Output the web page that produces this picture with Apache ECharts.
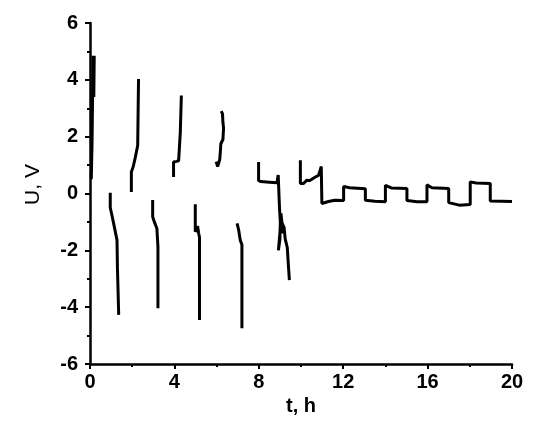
<!DOCTYPE html>
<html>
<head>
<meta charset="utf-8">
<script src="https://cdn.jsdelivr.net/npm/echarts@6/dist/echarts.min.js"></script>
<style>
  html, body { margin: 0; padding: 0; background: #fff; }
  #chart { width: 550px; height: 425px; }
</style>
</head>
<body>
<div id="chart"></div>
<script>
// t (h), U (V) pairs, one array per trace piece
const charge1 = [[0.06, 0.5], [0.08, 1.2], [0.1, 1.9], [0.11, 2.6], [0.12, 3.3], [0.14, 4.85], [0.18, 3.4], [0.2, 4.8], [0.16, 3.6], [0.2, 4.85]];
const discharge1 = [[0.96, 0.03], [0.96, -0.5], [1.05, -0.8], [1.12, -1.05], [1.2, -1.35], [1.28, -1.64], [1.3, -2.6], [1.36, -2.6], [1.36, -4.27]];
const charge2 = [[1.96, 0.05], [1.96, 0.76], [2.05, 0.95], [2.15, 1.28], [2.26, 1.69], [2.3, 1.75], [2.3, 4.03]];
const discharge2 = [[2.97, -0.23], [2.97, -0.82], [3.05, -1.0], [3.17, -1.23], [3.22, -1.87], [3.22, -4.04]];
const charge3 = [[3.96, 0.58], [3.96, 1.11], [4.1, 1.13], [4.2, 1.15], [4.28, 1.2], [4.28, 2.16], [4.33, 2.2], [4.33, 3.45]];
const discharge3 = [[4.99, -0.38], [4.99, -1.35], [5.05, -1.3], [5.1, -1.15], [5.15, -1.4], [5.19, -1.55], [5.19, -4.45]];
const charge4 = [[5.98, 1.12], [6.05, 0.95], [6.12, 0.95], [6.15, 1.2], [6.18, 1.5], [6.2, 1.75], [6.3, 1.9], [6.33, 2.3], [6.3, 2.5], [6.28, 2.8], [6.22, 2.9]];
const discharge4 = [[6.97, -1.05], [7.05, -1.3], [7.12, -1.64], [7.2, -1.8], [7.2, -4.74]];
const cycle5 = [[7.99, 1.11], [7.99, 0.45], [8.1, 0.42], [8.5, 0.4], [8.86, 0.38], [8.88, 0.45], [8.92, 0.65], [8.97, 0.62],
  [8.98, -0.5], [9.02, -1.0], [9.0, -1.6], [8.93, -2.0], [9.0, -1.4], [9.05, -0.7], [9.15, -1.4], [9.08, -1.0],
  [9.2, -1.2], [9.25, -1.6], [9.35, -1.9], [9.4, -2.5], [9.45, -3.05]];
const cycleTail = [[9.97, 1.17], [9.97, 0.35], [10.12, 0.35], [10.28, 0.47], [10.4, 0.45], [10.68, 0.58], [10.83, 0.64],
  [10.91, 0.82], [10.96, 0.95], [10.99, -0.35], [11.3, -0.28], [11.6, -0.24], [12.02, -0.25],
  [12.02, 0.25], [12.3, 0.2], [13.05, 0.17], [13.05, -0.24], [13.5, -0.27], [14.0, -0.29],
  [14.0, 0.29], [14.3, 0.19], [15.02, 0.18], [15.02, -0.25], [15.5, -0.29], [15.97, -0.29],
  [15.97, 0.31], [16.2, 0.2], [17.0, 0.18], [17.0, -0.32], [17.5, -0.41], [18.02, -0.39],
  [18.02, 0.41], [18.3, 0.37], [18.97, 0.35], [18.97, -0.26], [20.0, -0.28]];

const traces = [charge1, discharge1, charge2, discharge2, charge3, discharge3, charge4, discharge4, cycle5, cycleTail];

const font = 'Liberation Sans, Arial, sans-serif';

const option = {
  animation: false,
  backgroundColor: '#fff',
  grid: {
    left: 90,
    right: 38,
    top: 23,
    bottom: 61
  },
  xAxis: {
    type: 'value',
    min: 0,
    max: 20,
    interval: 4,
    name: 't, h',
    nameLocation: 'middle',
    nameGap: 30,
    nameTextStyle: { color: '#000', fontSize: 20, fontWeight: 'bold', fontFamily: font },
    axisLine: { show: true, onZero: false, lineStyle: { color: '#000', width: 2.5 } },
    axisTick: { show: true, length: 5, lineStyle: { color: '#000', width: 2 } },
    minorTick: { show: true, splitNumber: 2, length: 3, lineStyle: { color: '#000', width: 2 } },
    splitLine: { show: false },
    axisLabel: { color: '#000', fontSize: 20, fontWeight: 'bold', fontFamily: font, margin: 8 }
  },
  yAxis: {
    type: 'value',
    min: -6,
    max: 6,
    interval: 2,
    name: 'U, V',
    nameLocation: 'middle',
    nameGap: 46,
    nameTextStyle: { color: '#000', fontSize: 21, fontFamily: font, padding: [0, 0, 0, 18] },
    axisLine: { show: true, onZero: false, lineStyle: { color: '#000', width: 2.5 } },
    axisTick: { show: true, length: 5, lineStyle: { color: '#000', width: 2 } },
    minorTick: { show: true, splitNumber: 2, length: 3, lineStyle: { color: '#000', width: 2 } },
    splitLine: { show: false },
    axisLabel: { color: '#000', fontSize: 20, fontWeight: 'bold', fontFamily: font, margin: 12 }
  },
  series: traces.map(function (d) {
    return {
      type: 'line',
      data: d,
      showSymbol: false,
      lineStyle: { color: '#000', width: 3 },
      silent: true
    };
  })
};

const chart = echarts.init(document.getElementById('chart'));
chart.setOption(option);
</script>
</body>
</html>
